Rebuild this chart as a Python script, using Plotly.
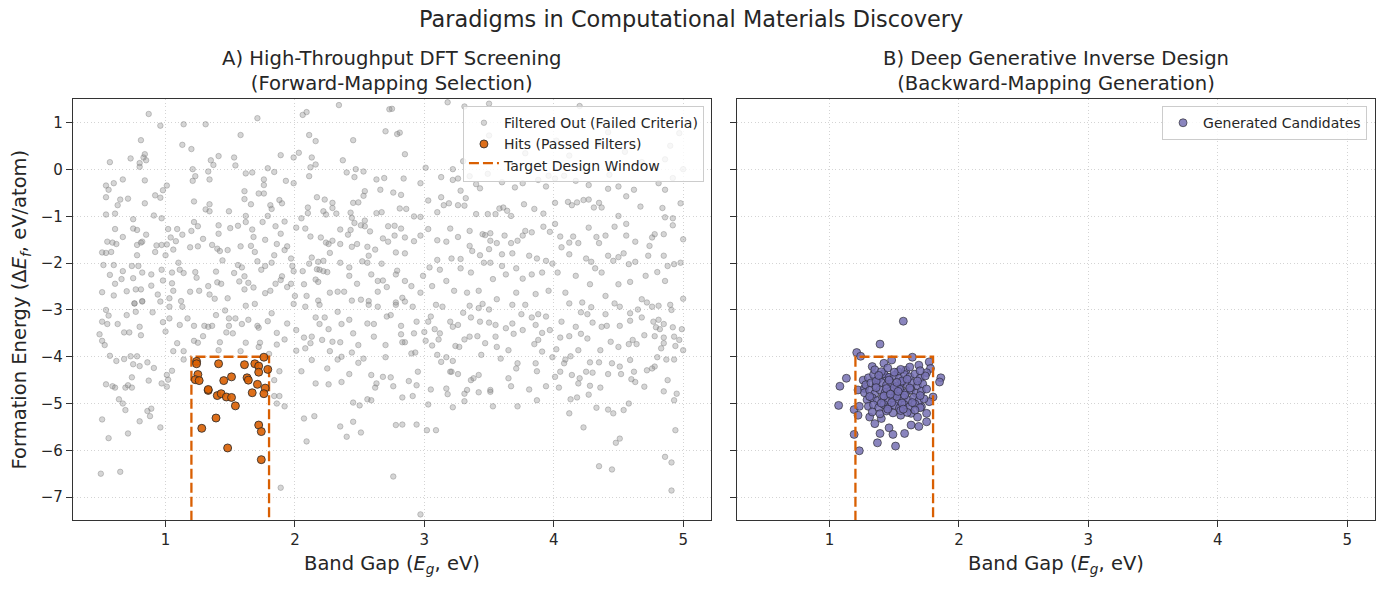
import plotly.graph_objects as go

# ---------------- data ----------------
# Panel A: screened candidates that failed the filters (band gap eV, formation energy eV/atom)
filtered_pts = [
(0.87,1.19),(0.96,0.94),(1.14,0.97),(1.31,0.97),(1.71,1.10),(1.58,0.74),(2.06,1.17),(2.09,1.23),(2.34,1.38),(2.73,1.29),
(2.70,0.82),(2.11,0.74),(2.16,0.61),(2.45,0.63),(0.81,0.63),(1.13,0.53),(1.20,0.44),(0.57,0.16),(0.73,0.24),(0.80,0.14),
(0.80,0.06),(0.83,0.26),(0.84,0.33),(0.85,0.20),(1.35,0.20),(1.37,0.10),(1.41,0.29),(1.53,0.26),(1.54,0.09),(1.89,0.31),
(1.99,0.26),(2.03,0.36),(2.13,0.26),(2.12,0.05),(2.16,0.11),(2.37,0.20),(2.40,-0.06),(2.47,0.01),(2.53,-0.04),(1.21,0.01),
(1.23,-0.14),(1.21,-0.24),(1.33,-0.04),(1.34,-0.21),(1.62,-0.08),(1.67,-0.06),(1.79,0.03),(1.84,-0.05),(1.76,-0.21),(1.76,-0.33),
(1.93,-0.24),(1.99,-0.29),(2.11,-0.14),(2.46,-0.16),(0.54,-0.34),(0.56,-0.43),(0.60,-0.29),(0.67,-0.21),(0.54,-0.59),(0.63,-0.76),
(0.65,-0.64),(0.71,-0.62),(0.84,-0.23),(0.84,-0.72),(0.92,-0.55),(0.96,-0.60),(0.98,-0.44),(1.01,-0.34),(0.54,-0.96),(0.61,-0.94),
(0.91,-0.98),(0.97,-1.04),(0.75,-1.06),(1.22,-0.68),(1.31,-0.85),(1.34,-0.74),(1.34,-0.89),(1.49,-0.89),(1.61,-0.46),(1.61,-0.63),
(1.66,-0.74),(1.72,-0.51),(1.76,-0.51),(1.81,-0.76),(1.82,-0.84),(1.88,-0.65),(1.90,-0.72),(1.62,-0.99),(1.79,-0.99),(1.92,-1.11),
(2.05,-1.04),(2.10,-0.81),(2.10,-0.93),(2.17,-0.59),(2.23,-0.64),(2.29,-0.71),(2.29,-0.82),(2.22,-0.89),(2.24,-0.96),(2.32,-0.94),
(2.43,-0.92),(2.45,-0.71),(2.49,-0.70),(2.53,-0.56),(2.54,-0.46),(2.63,-0.21),(2.66,-0.43),(2.69,-0.18),(2.63,-0.93),(2.67,-0.91),
(2.44,-1.03),(0.61,-1.27),(0.67,-1.44),(0.75,-1.26),(0.78,-1.29),(0.85,-1.39),(0.78,-1.61),(0.81,-1.56),(0.82,-1.54),(0.78,-1.83),
(0.55,-1.54),(0.59,-1.56),(0.62,-1.59),(0.51,-1.77),(0.54,-1.78),(0.58,-1.76),(1.02,-1.27),(1.04,-1.45),(0.93,-1.62),(0.97,-1.61),
(1.01,-1.60),(1.00,-1.83),(0.92,-1.76),(1.09,-1.27),(1.13,-1.39),(1.08,-1.53),(1.06,-1.71),(1.19,-1.66),(1.20,-1.31),(1.22,-1.12),
(1.25,-1.21),(1.25,-1.64),(1.29,-1.48),(1.36,-1.61),(1.41,-1.19),(1.41,-1.37),(1.40,-1.69),(1.42,-1.74),(1.48,-1.72),(1.50,-1.25),
(1.56,-1.20),(1.62,-1.12),(1.67,-1.28),(1.68,-1.44),(1.66,-1.63),(1.58,-1.64),(1.69,-1.76),(1.75,-1.12),(1.77,-1.50),(1.85,-1.21),
(1.89,-1.37),(1.86,-1.59),(1.92,-1.72),(1.94,-1.64),(2.01,-1.24),(2.08,-1.26),(2.12,-1.43),(2.20,-1.45),(2.24,-1.56),(2.26,-1.59),
(2.29,-1.52),(2.27,-1.78),(2.35,-1.59),(2.35,-1.28),(2.41,-1.39),(2.43,-1.29),(2.46,-1.14),(2.51,-1.19),(2.54,-1.21),(2.54,-1.09),
(2.58,-1.32),(2.48,-1.59),(2.44,-1.65),(2.56,-1.65),(2.57,-1.84),(2.62,-1.71),(2.68,-1.47),(2.72,-1.21),(2.72,-1.54),(2.67,-2.01),
(0.60,-2.04),(0.52,-2.04),(0.57,-2.25),(0.61,-2.44),(0.67,-2.17),(0.66,-2.34),(0.74,-2.06),(0.75,-2.32),(0.79,-2.06),(0.82,-2.20),
(0.89,-2.24),(0.70,-2.60),(0.77,-2.56),(0.81,-2.56),(0.51,-2.62),(0.60,-2.69),(0.89,-2.48),(0.97,-2.14),(0.98,-2.37),(0.94,-2.67),
(0.76,-2.86),(0.82,-2.81),(1.05,-2.43),(1.06,-2.59),(1.10,-1.99),(1.11,-2.14),(1.14,-2.21),(1.05,-2.20),(1.03,-2.75),(1.12,-2.81),
(1.23,-2.19),(1.24,-2.31),(1.19,-2.61),(1.26,-2.59),(1.34,-2.67),(1.33,-2.49),(1.39,-2.18),(1.40,-2.41),(1.43,-2.44),(1.48,-2.75),
(1.38,-2.76),(1.44,-1.94),(1.53,-2.21),(1.56,-2.04),(1.59,-2.09),(1.61,-2.28),(1.57,-2.39),(1.64,-2.42),(1.61,-2.56),(1.68,-2.52),
(1.71,-1.96),(1.74,-2.14),(1.77,-2.06),(1.82,-1.99),(1.84,-1.83),(1.77,-2.64),(1.81,-2.59),(1.85,-2.44),(1.89,-2.36),(1.90,-2.28),
(1.94,-2.51),(1.97,-1.90),(1.98,-2.06),(1.99,-2.17),(2.06,-2.17),(2.11,-2.01),(2.13,-1.88),(2.18,-1.97),(2.22,-1.95),(2.17,-2.13),
(2.19,-2.14),(2.22,-2.17),(2.25,-2.19),(2.16,-2.35),(2.18,-2.40),(2.07,-2.45),(1.97,-2.44),(2.00,-2.70),(2.09,-2.70),(2.18,-2.80),
(2.27,-2.63),(2.33,-2.61),(2.38,-2.61),(2.35,-1.99),(2.42,-2.09),(2.42,-2.27),(2.48,-2.44),(2.52,-1.96),(2.56,-1.99),(2.59,-2.24),
(2.64,-2.38),(2.68,-2.37),(2.44,-2.80),(2.51,-2.78),(2.57,-2.81),(2.64,-2.61),(2.71,-2.51),
(2.75,1.30),(2.79,0.76),(2.81,0.79),(2.85,0.33),(3.18,1.44),(3.31,1.35),(3.50,1.41),(4.20,1.36),(3.01,0.04),(3.22,0.01),
(2.84,-0.19),(3.13,-0.16),(3.22,-0.22),(3.26,-0.19),(3.35,-0.14),(3.49,-0.09),(2.97,-0.29),(2.76,-0.49),(2.82,-0.54),(3.28,-0.45),
(3.32,-0.61),(3.40,-0.31),(3.43,-0.40),(3.60,-0.27),(3.70,-0.38),(3.76,-0.29),(3.88,-0.22),(3.96,-0.13),(4.01,-0.19),(4.08,-0.13),
(4.17,-0.24),(4.27,-0.33),(3.94,-0.36),(4.42,-0.41),(4.43,-0.11),(4.50,-0.36),(4.56,-0.57),(4.62,-0.43),(4.81,-0.29),(4.86,-0.43),
(4.92,-0.18),(5.00,0.01),(4.90,0.51),(4.97,0.78),(2.81,-0.83),(2.86,-0.84),(2.92,-1.00),(3.03,-0.66),(3.13,-0.59),(3.15,-0.76),
(3.19,-0.72),(3.26,-0.76),(3.31,-0.77),(3.10,-0.91),(2.97,-1.01),(3.40,-0.95),(3.49,-0.95),(3.55,-0.95),(3.58,-0.83),(3.61,-0.81),
(3.64,-0.88),(3.67,-0.99),(3.77,-0.74),(3.85,-0.84),(3.92,-0.94),(4.01,-0.71),(4.11,-0.69),(4.14,-0.76),(4.18,-0.70),(4.23,-0.65),
(4.27,-0.64),(4.31,-0.81),(4.35,-0.71),(4.37,-0.81),(4.50,-0.99),(4.67,-0.79),(4.84,-0.82),(4.86,-1.02),(4.98,-0.72),(4.92,-1.04),
(2.77,-1.20),(2.82,-1.26),(2.77,-1.41),(2.85,-1.45),(2.92,-1.53),(2.97,-1.41),(3.03,-1.27),(3.10,-1.51),(3.20,-1.26),(3.17,-1.54),
(3.26,-1.44),(3.35,-1.31),(3.35,-1.63),(3.45,-1.38),(3.47,-1.40),(3.51,-1.36),(3.51,-1.52),(3.56,-1.57),(3.62,-1.41),(3.67,-1.57),
(3.72,-1.52),(3.76,-1.41),(3.78,-1.31),(3.83,-1.34),(3.92,-1.22),(3.97,-1.33),(4.01,-1.16),(4.05,-1.43),(4.12,-1.56),(4.15,-1.43),
(4.19,-1.57),(4.27,-1.24),(4.33,-1.44),(4.35,-1.57),(4.40,-1.41),(4.47,-1.22),(4.56,-1.16),(4.56,-1.41),(4.63,-1.54),(4.76,-1.45),
(4.78,-1.38),(4.85,-1.38),(4.92,-1.19),(5.00,-1.49),(4.74,-1.63),(2.78,-1.77),(2.85,-1.79),(2.79,-2.16),(2.78,-2.24),(2.85,-2.38),
(2.90,-2.49),(2.99,-2.27),(3.04,-2.09),(3.10,-1.93),(3.12,-2.14),(3.17,-2.38),(3.21,-1.90),(3.28,-1.91),(3.28,-2.11),(3.36,-2.20),
(3.37,-1.74),(3.43,-1.83),(3.46,-1.99),(3.50,-1.70),(3.51,-1.99),(3.53,-2.34),(3.60,-1.81),(3.60,-2.06),(3.63,-2.24),(3.68,-1.79),
(3.71,-2.11),(3.76,-2.33),(3.81,-1.84),(3.83,-2.24),(3.87,-1.90),(3.91,-2.20),(3.94,-1.95),(3.99,-2.01),(4.03,-2.20),(4.06,-1.66),
(4.12,-1.81),(4.17,-2.27),(4.25,-1.90),(4.29,-1.97),(4.32,-2.11),(4.37,-2.20),(4.42,-1.84),(4.46,-1.95),(4.50,-1.87),(4.54,-1.79),
(4.58,-2.02),(4.63,-1.97),(4.73,-1.84),(4.85,-1.84),(4.80,-2.19),(4.88,-2.06),(4.93,-2.02),(4.98,-1.99),(4.71,-2.27),(4.86,-2.38),
(4.59,-2.40),(4.50,-2.45),(4.28,-2.45),(4.09,-2.63),(3.96,-2.59),(3.86,-2.66),(3.71,-2.63),(3.42,-2.59),(3.33,-2.63),(3.23,-2.59),
(3.06,-2.49),(2.97,-2.63),(2.83,-2.74),(4.40,-2.70),(4.68,-2.77),(5.00,-2.76),(4.22,-2.84),(3.56,-2.77),(2.78,-2.84),
(4.42,0.80),(4.35,0.55),(3.65,0.51),(3.88,0.09),(4.68,0.16),(4.12,0.30),(3.50,0.73),(4.02,0.62),(3.78,0.35),(4.55,0.38),
(3.30,0.18),(4.86,0.22),
(0.76,-2.86),(0.82,-2.82),(0.90,-3.05),(0.54,-3.00),(0.56,-3.12),(0.51,-3.25),(0.55,-3.30),(0.63,-3.30),(0.70,-3.11),(0.77,-3.04),
(0.80,-3.36),(0.49,-3.52),(0.51,-3.66),(0.53,-3.75),(0.68,-3.48),(0.72,-3.48),(0.81,-3.54),(0.57,-3.98),(0.62,-4.09),(0.68,-4.05),
(0.73,-3.99),(0.78,-3.99),(0.75,-4.16),(0.80,-4.20),(0.86,-4.12),(0.91,-4.24),(0.54,-4.59),(0.59,-4.63),(0.61,-4.66),(0.69,-4.66),
(0.71,-4.61),(0.74,-4.66),(0.74,-4.44),(0.87,-4.51),(0.64,-4.91),(0.67,-5.00),(0.69,-5.14),(0.86,-5.16),(0.89,-5.11),(0.88,-5.27),
(0.51,-5.34),(0.80,-5.38),(0.96,-5.51),(0.71,-5.64),(0.56,-5.74),(0.50,-6.50),(0.65,-6.46),(0.96,-2.82),(1.03,-2.93),(0.98,-3.26),
(1.00,-3.46),(1.03,-3.18),(1.11,-3.32),(1.17,-3.18),(1.13,-2.93),(1.09,-3.71),(1.06,-3.88),(1.01,-4.39),(1.02,-4.49),(0.97,-4.57),
(1.01,-4.64),(1.05,-4.30),(1.14,-4.06),(1.14,-3.88),(1.22,-3.34),(1.22,-3.66),(1.25,-3.70),(1.29,-3.56),(1.30,-3.34),(1.33,-3.36),
(1.36,-3.34),(1.39,-3.11),(1.46,-3.01),(1.49,-3.18),(1.47,-3.48),(1.52,-3.50),(1.49,-3.34),(1.42,-3.69),(1.41,-3.86),(1.54,-3.18),
(1.59,-3.30),(1.62,-2.91),(1.69,-2.87),(1.64,-3.21),(1.71,-3.34),(1.72,-3.38),(1.62,-3.70),(1.58,-3.88),(1.73,-3.70),(1.72,-3.79),
(1.80,-3.94),(1.79,-3.24),(1.82,-3.07),(1.86,-3.49),(1.86,-3.74),(1.92,-3.63),(1.94,-3.29),(1.99,-2.87),(2.01,-3.43),(1.88,-4.31),
(1.84,-4.50),(1.84,-4.84),(1.88,-4.84),(1.86,-5.00),(1.92,-5.06),(1.89,-6.80),(2.01,-3.87),(2.08,-3.82),(2.12,-3.71),(2.07,-3.59),
(2.13,-3.57),(2.05,-4.31),(2.16,-4.57),(2.13,-4.07),(2.07,-5.32),(2.15,-5.27),(2.09,-5.81),(2.08,-2.93),(2.19,-2.89),(2.16,-3.16),
(2.23,-3.16),(2.19,-3.30),(2.26,-3.41),(2.29,-3.68),(2.27,-3.88),(2.21,-3.64),(2.25,-4.25),(2.26,-4.59),(2.33,-3.04),(2.36,-3.30),
(2.35,-3.69),(2.36,-4.00),(2.33,-4.06),(2.36,-4.54),(2.42,-4.37),(2.42,-3.21),(2.45,-3.50),(2.44,-3.91),(2.49,-4.13),(2.53,-4.04),
(2.57,-2.89),(2.64,-2.93),(2.56,-3.29),(2.61,-3.30),(2.61,-3.57),(2.49,-3.75),(2.59,-4.39),(2.62,-4.66),(2.63,-4.57),(2.68,-4.43),
(2.70,-4.01),(2.70,-3.75),(2.71,-3.14),(2.45,-4.98),(2.50,-5.04),(2.56,-4.91),(2.59,-4.93),(2.35,-5.49),(2.40,-5.71),(2.45,-5.39),
(2.51,-5.62),
(2.78,-2.89),(2.85,-2.82),(2.91,-2.93),(2.74,-3.11),(2.82,-3.34),(2.82,-3.52),(2.83,-3.69),(2.85,-3.69),(2.90,-3.93),(2.93,-3.91),
(2.92,-3.50),(2.94,-3.25),(3.00,-3.47),(3.01,-3.66),(3.06,-3.76),(3.03,-3.25),(3.05,-3.14),(3.08,-3.41),(3.12,-3.50),(3.11,-3.63),
(3.10,-3.96),(3.13,-4.11),(3.09,-2.89),(3.14,-2.93),(3.20,-3.25),(3.22,-3.36),(3.26,-3.32),(3.17,-4.01),(3.22,-4.09),(3.21,-4.32),
(3.26,-4.37),(3.24,-3.77),(3.27,-3.79),(3.30,-3.06),(3.35,-2.91),(3.36,-3.16),(3.31,-3.63),(3.35,-3.57),(3.41,-3.56),(3.44,-3.96),
(3.42,-2.96),(3.45,-2.87),(3.50,-2.99),(3.43,-3.25),(3.50,-3.27),(3.55,-3.32),(3.55,-3.57),(3.47,-3.71),(3.56,-3.79),(3.42,-4.39),
(3.38,-4.46),(3.36,-4.50),(3.31,-4.79),(3.33,-4.71),(3.31,-4.95),(3.22,-5.08),(3.17,-4.68),(3.18,-4.80),(3.20,-4.32),(3.05,-4.70),
(3.03,-5.02),(2.95,-4.32),(2.94,-4.61),(2.88,-4.52),(2.83,-4.87),(2.91,-4.84),(2.76,-4.63),(2.74,-4.44),(2.78,-5.46),(2.83,-5.45),
(2.94,-5.45),(3.02,-5.57),(3.09,-5.57),(2.76,-6.56),(2.97,-7.37),(3.51,-4.75),(3.53,-5.06),(3.51,-4.71),(3.42,-4.76),(3.59,-4.04),
(3.65,-4.46),(3.67,-4.63),(3.72,-5.06),(3.71,-4.25),(3.72,-4.14),(3.65,-3.86),(3.69,-3.51),(3.63,-3.39),(3.68,-3.29),(3.68,-2.89),
(3.75,-3.09),(3.78,-2.89),(3.76,-3.43),(3.83,-3.16),(3.88,-3.09),(3.94,-3.14),(3.86,-3.32),(3.91,-3.49),(3.97,-3.43),(3.85,-3.73),
(3.88,-3.64),(3.91,-3.89),(3.86,-4.14),(3.87,-4.31),(3.94,-4.63),(3.81,-4.70),(3.87,-4.93),(3.99,-4.01),(4.02,-3.84),(4.01,-4.43),
(4.04,-4.66),(4.05,-4.32),(4.08,-4.14),(4.09,-4.06),(4.13,-3.99),(4.12,-3.56),(4.05,-3.59),(4.06,-3.25),(4.12,-2.86),(4.21,-3.05),
(4.17,-3.36),(4.21,-3.51),(4.26,-3.09),(4.29,-2.94),(4.30,-3.27),(4.26,-3.61),(4.19,-3.86),(4.28,-4.12),(4.25,-4.32),(4.30,-4.34),
(4.14,-4.39),(4.20,-4.46),(4.19,-4.57),(4.28,-4.62),(4.27,-4.81),(4.36,-4.66),(4.13,-4.91),(4.12,-5.21),(4.18,-4.87),(4.23,-5.51),
(4.33,-5.09),(4.35,-4.12),(4.36,-3.86),(4.40,-3.09),(4.37,-3.36),(4.41,-3.34),(4.44,-3.68),(4.47,-2.86),(4.51,-2.93),(4.51,-3.34),
(4.50,-3.79),(4.59,-3.07),(4.59,-3.23),(4.58,-3.73),(4.61,-3.64),(4.64,-3.73),(4.51,-4.21),(4.52,-4.37),(4.42,-4.37),(4.45,-4.14),
(4.59,-4.07),(4.60,-4.48),(4.63,-4.54),(4.62,-4.32),(4.70,-4.64),(4.54,-5.14),(4.58,-5.00),(4.42,-5.13),(4.46,-5.21),(4.48,-5.84),
(4.51,-5.75),(4.35,-6.34),(4.45,-6.41),(4.65,-2.99),(4.68,-3.16),(4.70,-3.54),(4.72,-2.84),(4.76,-2.93),(4.81,-2.91),(4.77,-3.25),
(4.81,-3.21),(4.79,-3.37),(4.82,-3.41),(4.85,-3.30),(4.78,-3.56),(4.85,-3.59),(4.85,-3.71),(4.83,-3.82),(4.92,-3.37),(4.93,-3.57),
(4.97,-3.64),(4.99,-3.41),(5.00,-3.86),(4.94,-3.77),(4.90,-2.89),(4.91,-3.00),(4.80,-4.01),(4.76,-4.25),(4.72,-4.29),(4.78,-4.21),
(4.87,-4.06),(4.93,-4.06),(4.88,-4.50),(4.85,-4.74),(4.93,-4.93),(4.95,-4.79),(4.94,-5.57),(4.86,-6.14),(4.91,-6.26),(4.91,-6.86),
]

# Panel A: hits that passed the filters
hits_pts = [
(1.76,-4.01),(1.24,-4.10),(1.24,-4.15),(1.41,-4.15),(1.61,-4.17),(1.69,-4.15),(1.72,-4.20),(1.79,-4.27),(1.72,-4.33),(1.25,-4.38),
(1.23,-4.49),(1.26,-4.51),(1.51,-4.43),(1.45,-4.51),(1.63,-4.45),(1.64,-4.50),(1.71,-4.59),(1.77,-4.67),(1.33,-4.72),(1.33,-4.70),
(1.67,-4.77),(1.76,-4.79),(1.40,-4.83),(1.43,-4.79),(1.47,-4.86),(1.51,-4.87),(1.54,-5.05),(1.39,-5.31),(1.28,-5.53),(1.72,-5.46),
(1.74,-5.60),(1.48,-5.95),(1.74,-6.20),
]

# Panel B: generated candidates
generated_pts = [
(1.57,-3.24),(1.39,-3.73),(1.21,-3.91),(1.13,-4.46),(1.08,-4.63),(1.07,-5.04),(1.86,-4.45),(1.85,-4.54),(1.19,-5.66),(1.23,-6.01),
(1.37,-5.84),(1.51,-5.91),(1.46,-5.52),(1.49,-5.66),(1.39,-5.64),(1.58,-5.64),(1.63,-5.46),(1.69,-5.49),(1.75,-5.39),(1.77,-4.11),
(1.64,-4.01),(1.24,-3.99),(1.19,-5.13),(1.22,-5.25),(1.80,-4.86),(1.77,-4.96),(1.78,-4.25),(1.75,-4.34),(1.69,-4.18),(1.48,-4.07),
(1.42,-4.14),(1.33,-4.21),(1.26,-4.50),(1.22,-4.71),(1.27,-4.68),(1.23,-5.06),(1.31,-5.29),(1.35,-5.43),(1.40,-5.32),(1.55,-5.25),
(1.63,-5.21),(1.68,-5.29),(1.75,-5.21),(1.71,-5.07),(1.53,-4.32),(1.59,-4.29),(1.44,-4.43),(1.37,-4.50),
(1.30,-4.45),(1.34,-4.38),(1.38,-4.47),(1.42,-4.36),(1.46,-4.44),(1.50,-4.40),(1.54,-4.46),(1.58,-4.38),(1.62,-4.43),(1.66,-4.37),
(1.70,-4.46),(1.74,-4.41),(1.28,-4.60),(1.32,-4.56),(1.36,-4.62),(1.40,-4.55),(1.44,-4.61),(1.48,-4.57),(1.52,-4.63),(1.56,-4.55),
(1.60,-4.60),(1.64,-4.56),(1.68,-4.62),(1.72,-4.58),(1.27,-4.77),(1.31,-4.72),(1.35,-4.79),(1.39,-4.71),(1.43,-4.76),(1.47,-4.73),
(1.51,-4.80),(1.55,-4.72),(1.59,-4.77),(1.63,-4.71),(1.67,-4.78),(1.71,-4.74),(1.75,-4.69),(1.29,-4.92),(1.33,-4.88),(1.37,-4.94),
(1.41,-4.87),(1.45,-4.93),(1.49,-4.89),(1.53,-4.95),(1.57,-4.88),(1.61,-4.93),(1.65,-4.87),(1.69,-4.94),(1.73,-4.90),(1.30,-5.06),
(1.34,-5.03),(1.38,-5.09),(1.42,-5.02),(1.46,-5.08),(1.50,-5.04),(1.54,-5.10),(1.58,-5.03),(1.62,-5.07),(1.66,-5.01),(1.70,-5.09),
(1.33,-5.18),(1.39,-5.22),(1.44,-5.16),(1.49,-5.20),(1.55,-5.15),(1.60,-5.19),(1.66,-5.14),(1.35,-4.28),(1.45,-4.24),(1.55,-4.27),
(1.62,-4.22),(1.70,-4.30),(1.40,-4.32),(1.50,-4.33),(1.36,-4.52),(1.46,-4.50),(1.56,-4.52),(1.44,-4.68),(1.54,-4.69),(1.50,-4.66),
(1.42,-4.84),(1.52,-4.85),(1.58,-4.82),(1.48,-4.98),(1.40,-4.99),(1.56,-4.99),(1.64,-4.98),(1.36,-4.66),(1.62,-4.67),(1.68,-4.52),
(1.31,-4.85),(1.70,-4.83),(1.45,-5.12),(1.57,-5.12),(1.52,-4.55),(1.47,-4.80),(1.38,-4.40),(1.60,-4.48),(1.53,-4.74),
]

# Target design window (band gap bounds, formation-energy upper bound)
window_gap = [1.2, 1.8]
window_ef_max = -4.0
window_ef_floor = -9.0

x_ticks = [1, 2, 3, 4, 5]
y_ticks = [-7, -6, -5, -4, -3, -2, -1, 0, 1]
x_range = [0.285, 5.215]
y_range = [-7.49, 1.51]

filtered_gap = [p[0] for p in filtered_pts]
filtered_ef = [p[1] for p in filtered_pts]
hits_gap = [p[0] for p in hits_pts]
hits_ef = [p[1] for p in hits_pts]
gen_gap = [p[0] for p in generated_pts]
gen_ef = [p[1] for p in generated_pts]

rect_x = [window_gap[0], window_gap[0], window_gap[1], window_gap[1], window_gap[0]]
rect_y = [window_ef_floor, window_ef_max, window_ef_max, window_ef_floor, window_ef_floor]

ORANGE = "#d95f02"
INK = "#262626"
FONT = "DejaVu Sans"

fig = go.Figure()

fig.add_trace(go.Scatter(
    x=filtered_gap, y=filtered_ef, mode="markers", name="Filtered Out (Failed Criteria)",
    marker=dict(size=5.5, color="rgba(128,128,128,0.33)", line=dict(width=1, color="rgba(128,128,128,0.42)")),
    xaxis="x", yaxis="y", legend="legend", legendrank=1, hoverinfo="skip"))

fig.add_trace(go.Scatter(
    x=rect_x, y=rect_y, mode="lines", fill="toself", fillcolor="rgba(0,0,0,0)",
    name="Target Design Window",
    line=dict(color=ORANGE, width=2.3, dash="10px,4px"),
    xaxis="x", yaxis="y", legend="legend", legendrank=3, hoverinfo="skip"))

fig.add_trace(go.Scatter(
    x=hits_gap, y=hits_ef, mode="markers", name="Hits (Passed Filters)",
    marker=dict(size=8, color="rgba(217,95,2,0.9)", line=dict(width=0.9, color="rgba(40,40,40,0.9)")),
    xaxis="x", yaxis="y", legend="legend", legendrank=2, hoverinfo="skip"))

fig.add_trace(go.Scatter(
    x=gen_gap, y=gen_ef, mode="markers", name="Generated Candidates",
    marker=dict(size=8, color="rgba(117,112,179,0.85)", line=dict(width=0.7, color="rgba(30,30,30,0.85)")),
    xaxis="x2", yaxis="y2", legend="legend2", hoverinfo="skip"))

fig.add_trace(go.Scatter(
    x=rect_x, y=rect_y, mode="lines", showlegend=False,
    line=dict(color=ORANGE, width=2.3, dash="10px,4px"),
    xaxis="x2", yaxis="y2", hoverinfo="skip"))

axis_common = dict(
    showline=True, linecolor="#333333", linewidth=1.3, mirror=True,
    ticks="outside", ticklen=6, tickwidth=1.3, tickcolor="#333333",
    showgrid=True, gridcolor="#d4d4d4", griddash="1px,2.5px", gridwidth=1,
    zeroline=False, tickfont=dict(family=FONT, size=15, color=INK),
)

fig.update_layout(
    width=1383, height=590,
    margin=dict(l=73, r=8, t=99, b=70),
    paper_bgcolor="white", plot_bgcolor="white",
    font=dict(family=FONT, color=INK),
    xaxis=dict(domain=[0, 0.49], range=x_range, tickvals=x_ticks, anchor="y", **axis_common),
    yaxis=dict(range=y_range, tickvals=y_ticks, anchor="x", **axis_common),
    xaxis2=dict(domain=[0.51, 1], range=x_range, tickvals=x_ticks, anchor="y2", **axis_common),
    yaxis2=dict(range=y_range, tickvals=y_ticks, anchor="x2", matches="y", showticklabels=False, **axis_common),
    legend=dict(x=0.4846, y=0.983, xanchor="right", yanchor="top",
                bgcolor="rgba(255,255,255,0.8)", bordercolor="#cccccc", borderwidth=1,
                font=dict(family=FONT, size=14, color=INK), traceorder="normal"),
    legend2=dict(x=0.9939, y=0.983, xanchor="right", yanchor="top",
                 bgcolor="rgba(255,255,255,0.8)", bordercolor="#cccccc", borderwidth=1,
                 font=dict(family=FONT, size=14, color=INK)),
    annotations=[
        dict(text="Paradigms in Computational Materials Discovery", xref="paper", yref="paper",
             x=0.475, y=1.19, xanchor="center", yanchor="middle", showarrow=False,
             font=dict(family=FONT, size=22.4, color=INK)),
        dict(text="A) High-Throughput DFT Screening<br>(Forward-Mapping Selection)", xref="paper", yref="paper",
             x=0.245, y=1, xanchor="center", yanchor="bottom", yshift=2, showarrow=False,
             font=dict(family=FONT, size=19.6, color=INK)),
        dict(text="B) Deep Generative Inverse Design<br>(Backward-Mapping Generation)", xref="paper", yref="paper",
             x=0.755, y=1, xanchor="center", yanchor="bottom", yshift=2, showarrow=False,
             font=dict(family=FONT, size=19.6, color=INK)),
        dict(text="Band Gap (<i>E</i><sub><i>g</i></sub>, eV)", xref="paper", yref="paper",
             x=0.245, y=0, xanchor="center", yanchor="top", yshift=-30, showarrow=False,
             font=dict(family=FONT, size=19.5, color=INK)),
        dict(text="Band Gap (<i>E</i><sub><i>g</i></sub>, eV)", xref="paper", yref="paper",
             x=0.755, y=0, xanchor="center", yanchor="top", yshift=-30, showarrow=False,
             font=dict(family=FONT, size=19.5, color=INK)),
        dict(text="Formation Energy (Δ<i>E</i><sub><i>f</i></sub>, eV/atom)", xref="paper", yref="paper",
             x=-0.04, y=0.5, xanchor="center", yanchor="middle", textangle=-90, showarrow=False,
             font=dict(family=FONT, size=19.5, color=INK)),
    ],
)

fig.write_html("out.html")
